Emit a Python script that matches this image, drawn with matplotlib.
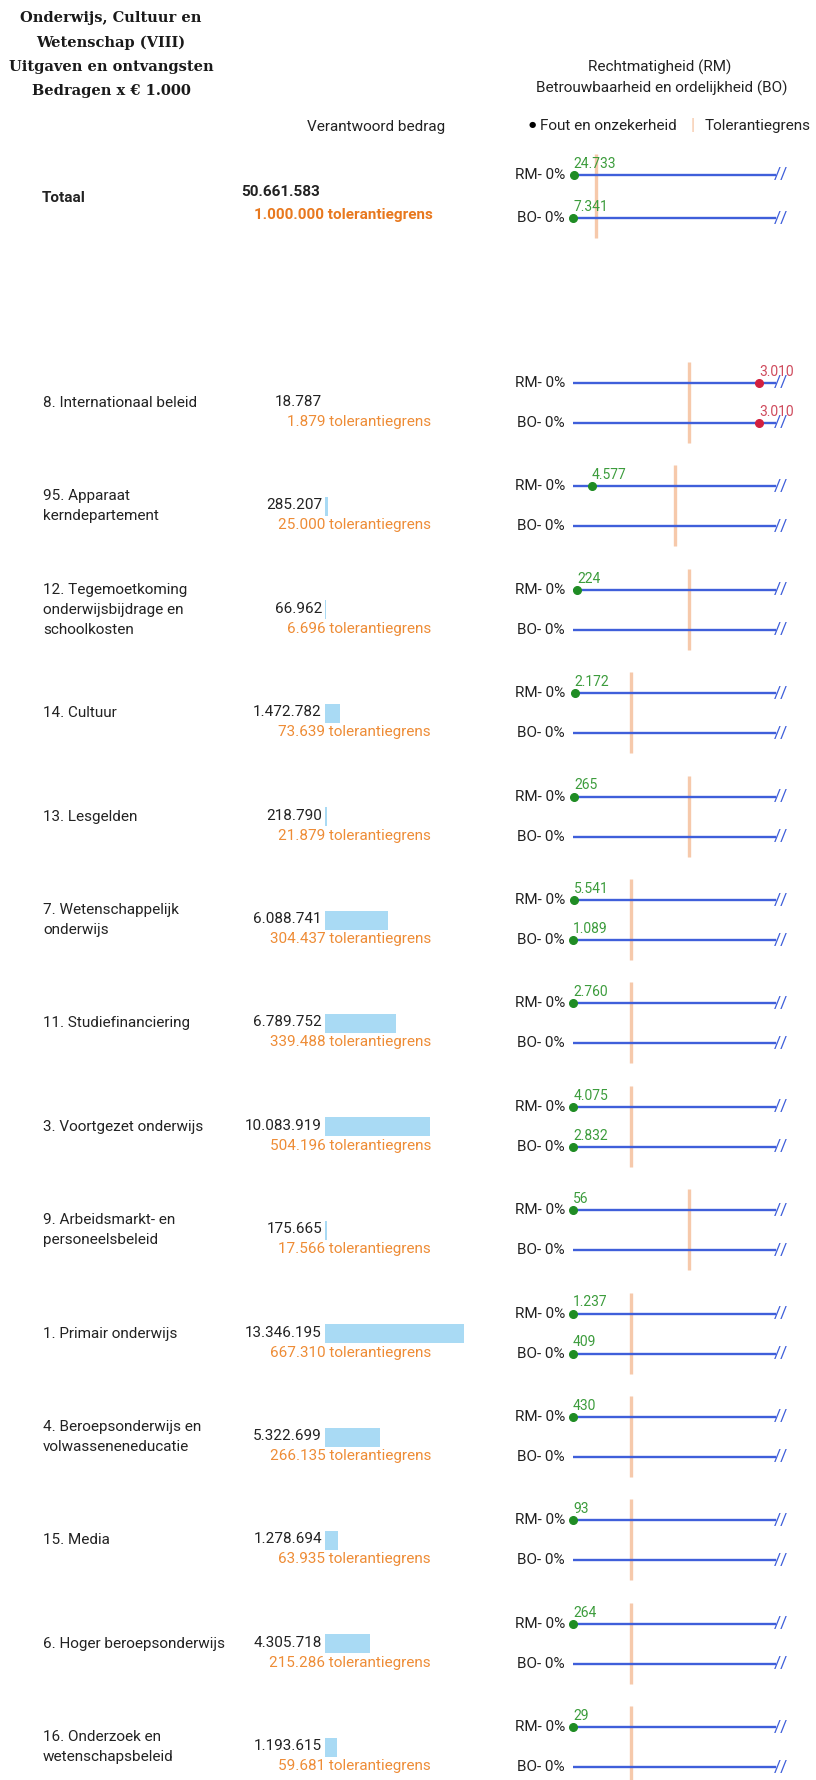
import numpy as np
import matplotlib.pyplot as plt

plt.rcParams['font.family'] = ['Roboto', 'DejaVu Sans']

# ---- data (bedragen x EUR 1.000) ----
labels = ["8. Internationaal beleid", "95. Apparaat\nkerndepartement",
          "12. Tegemoetkoming\nonderwijsbijdrage en\nschoolkosten", "14. Cultuur",
          "13. Lesgelden", "7. Wetenschappelijk\nonderwijs", "11. Studiefinanciering",
          "3. Voortgezet onderwijs", "9. Arbeidsmarkt- en\npersoneelsbeleid",
          "1. Primair onderwijs", "4. Beroepsonderwijs en\nvolwasseneneducatie",
          "15. Media", "6. Hoger beroepsonderwijs", "16. Onderzoek en\nwetenschapsbeleid"]
amounts = [18787, 285207, 66962, 1472782, 218790, 6088741, 6789752, 10083919,
           175665, 13346195, 5322699, 1278694, 4305718, 1193615]
tolerances = [1879, 25000, 6696, 73639, 21879, 304437, 339488, 504196,
              17566, 667310, 266135, 63935, 215286, 59681]
rm_errors = [3010, 4577, 224, 2172, 265, 5541, 2760, 4075, 56, 1237, 430, 93, 264, 29]
bo_errors = [3010, None, None, None, None, 1089, None, 2832, None, 409, None, None, None, None]

total_amount = 50661583
total_tol = 1000000
total_rm = 24733
total_bo = 7341

title_lines = ["Onderwijs, Cultuur en", "Wetenschap (VIII)",
               "Uitgaven en ontvangsten", "Bedragen x € 1.000"]

# ---- kleuren ----
TXT = '#222222'
ORANGE = '#ee8c36'
ORANGE_B = '#e8781e'
BAR_C = '#a9daf4'
LINE_C = '#3f5fda'
TOL_C = '#f6c9ab'
GREEN, GREEN_T = '#1f8c24', '#3c9c3c'
RED, RED_T = '#d2203f', '#cf4a5c'


def fmt(v):
    return f"{v:,}".replace(",", ".")


W, H = 816, 1780
fig = plt.figure(figsize=(W / 100, H / 100), dpi=100)

# tekst-laag in pixels
ax = fig.add_axes([0, 0, 1, 1])
ax.set_xlim(0, W)
ax.set_ylim(H, 0)
ax.axis('off')

# foutenpaneel: x in procent van het verantwoorde bedrag
X0, PX_PER_PCT = 573, 11.6
BREAK = 17.4
ax_e = fig.add_axes([X0 / W, 0, (W - X0) / W, 1])
ax_e.set_xlim(0, (W - X0) / PX_PER_PCT)
ax_e.set_ylim(H, 0)
ax_e.axis('off')

# balken verantwoord bedrag
B0, BW = 325, 150
ax_b = fig.add_axes([B0 / W, 0, BW / W, 1])
ax_b.set_xlim(0, max(amounts) * BW / 139)
ax_b.set_ylim(H, 0)
ax_b.axis('off')

# koppen
for i, line in enumerate(title_lines):
    ax.text(111, 18 + 24.5 * i, line, ha='center', va='center', fontsize=10.5,
            fontweight='bold', family=['DejaVu Serif'], color='#1a1a1a')
ax.text(660, 67, "Rechtmatigheid (RM)", ha='center', va='center', fontsize=11, color=TXT)
ax.text(662, 88, "Betrouwbaarheid en ordelijkheid (BO)", ha='center', va='center',
        fontsize=11, color=TXT)
ax.text(445, 127, "Verantwoord bedrag", ha='right', va='center', fontsize=11, color=TXT)
ax.text(532, 125, "●", ha='center', va='center', fontsize=6, color='black',
        family=['DejaVu Sans'])
ax.text(540, 126, "Fout en onzekerheid", ha='left', va='center', fontsize=11, color=TXT)
ax.text(693, 126, "|", ha='center', va='center', fontsize=12, color=TOL_C, fontweight='bold')
ax.text(705, 126, "Tolerantiegrens", ha='left', va='center', fontsize=11, color=TXT)


def draw_errors(mid, amount, tol, rm, bo, half):
    tol_pct = tol / amount * 100
    ax_e.plot([tol_pct, tol_pct], [mid - half - 21, mid + half + 20], color=TOL_C,
              lw=2.4, zorder=1, solid_capstyle='butt')
    for y, err, tag in [(mid - half, rm, 'RM'), (mid + half, bo, 'BO')]:
        ax_e.plot([0, BREAK], [y, y], color=LINE_C, lw=1.7, zorder=2)
        ax_e.annotate('//', (BREAK, y), xytext=(-1, 0), textcoords='offset points',
                      ha='left', va='center', fontsize=12.5, color=LINE_C)
        ax.text(565, y, f'{tag}- 0%', ha='right', va='center', fontsize=11, color=TXT)
        if err is not None:
            p = err / amount * 100
            over = err > tol
            ax_e.plot(p, y, 'o', color=RED if over else GREEN, ms=5.5, zorder=3,
                      clip_on=False)
            ax_e.annotate(fmt(err), (p, y), xytext=(0, 8), textcoords='offset points',
                          ha='left', va='center', fontsize=10,
                          color=RED_T if over else GREEN_T)


# Totaal
tot_mid = 196.5
ax.text(42, 198, "Totaal", ha='left', va='center', fontsize=11, fontweight='bold', color=TXT)
ax.text(320, tot_mid - 4.5, fmt(total_amount), ha='right', va='center', fontsize=11,
        fontweight='bold', color=TXT)
ax.text(433, tot_mid + 18.5, f"{fmt(total_tol)} tolerantiegrens", ha='right', va='center',
        fontsize=11, fontweight='bold', color=ORANGE_B)
draw_errors(tot_mid, total_amount, total_tol, total_rm, total_bo, half=21.5)

# onderdelen
mids = 403 + 103.4 * np.arange(len(labels))
ax_b.barh(mids, amounts, height=19, color=BAR_C, zorder=1)
for i, lab in enumerate(labels):
    m = mids[i]
    ax.text(43, m, lab, ha='left', va='center', fontsize=11, color=TXT, linespacing=1.55)
    ax.text(322, m - 1, fmt(amounts[i]), ha='right', va='center', fontsize=11, color=TXT)
    ax.text(431, m + 19, f"{fmt(tolerances[i])} tolerantiegrens", ha='right', va='center',
            fontsize=11, color=ORANGE)
    draw_errors(m, amounts[i], tolerances[i], rm_errors[i], bo_errors[i], half=20)

fig.savefig('out.png', dpi=100, facecolor='white')
